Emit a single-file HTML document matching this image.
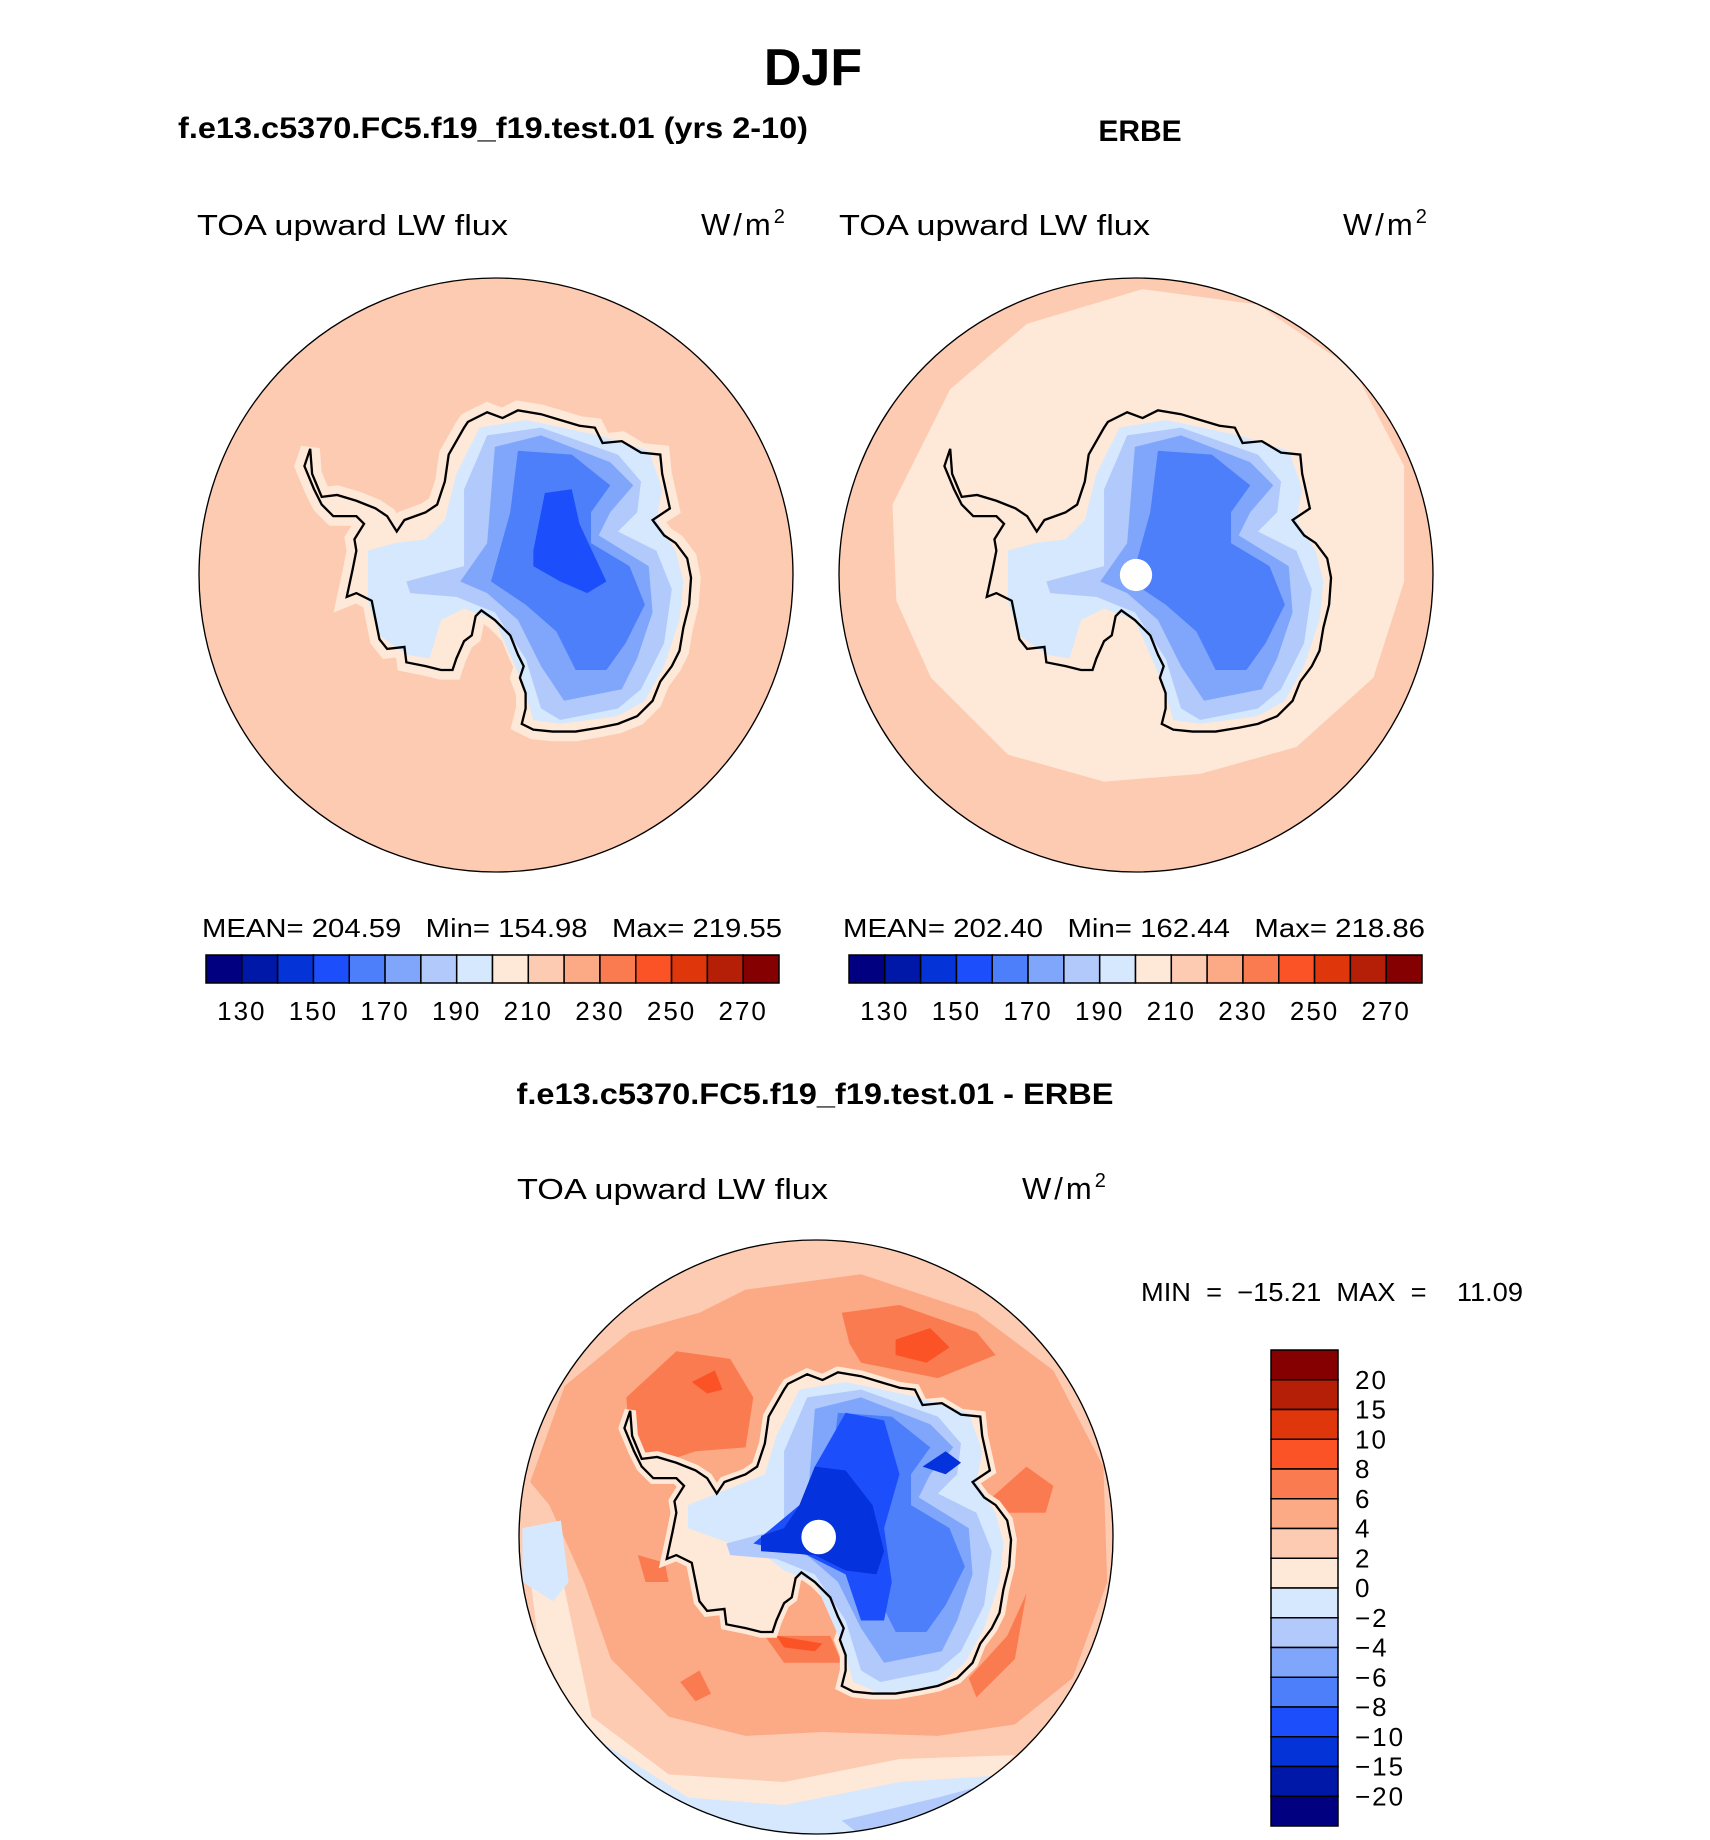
<!DOCTYPE html>
<html><head><meta charset="utf-8">
<style>
html,body{margin:0;padding:0;background:#fff;}
svg{display:block;font-family:"Liberation Sans",sans-serif;}
text{white-space:pre;}
</style></head>
<body>
<svg id="fig" width="1710" height="1840" viewBox="0 0 1710 1840" xmlns="http://www.w3.org/2000/svg">
<defs>
<path id="coast" d="M300,455 L305,520 330,580 370,575 420,590 470,610 500,630 525,670 545,640 600,620 630,600 650,540 660,470 700,400 710,385 760,360 800,375 840,355 900,365 950,380 1000,395 1040,400 1060,440 1110,435 1160,465 1210,470 1215,520 1235,610 1190,640 1220,680 1250,700 1280,740 1290,790 1285,860 1270,920 1260,980 1240,1020 1210,1060 1190,1110 1150,1150 1100,1170 1050,1180 990,1190 930,1190 880,1185 850,1170 860,1130 860,1090 845,1050 855,1020 840,990 820,940 780,900 745,875 730,890 720,940 700,955 680,1000 670,1030 640,1030 600,1020 550,1010 545,970 500,975 480,950 470,900 460,850 420,830 395,840 410,770 420,720 415,690 440,650 420,630 360,630 330,600 310,560 285,500 Z"/>
<path id="lb" d="M450,720 L520,700 600,690 650,640 680,520 740,400 860,380 1050,420 1180,460 1215,560 1200,640 1250,720 1270,800 1260,900 1220,1020 1170,1110 1100,1150 950,1170 880,1160 850,1060 780,900 700,870 640,900 610,1000 550,990 480,940 450,850Z"/>
<path id="b2" d="M550,800 L700,760 700,560 760,420 900,400 1100,470 1160,540 1150,620 1100,670 1200,720 1240,820 1220,960 1160,1080 1100,1130 950,1160 900,1130 860,1000 780,880 680,840 560,830Z"/>
<path id="b3" d="M690,800 L760,700 780,450 900,420 1080,490 1140,550 1080,620 1050,680 1180,760 1190,880 1150,1000 1110,1080 960,1110 900,1020 840,900 760,830Z"/>
<path id="b4" d="M770,800 L820,620 840,460 980,470 1080,550 1030,620 1030,700 1130,760 1170,860 1120,960 1070,1030 990,1030 940,930 860,860Z"/>
<path id="b5" d="M880,720 L910,570 980,560 1000,650 1070,800 1020,830 950,800 880,760Z"/>
<clipPath id="cc"><circle cx="783" cy="783" r="772"/></clipPath>
</defs>

<text x="813" y="85" text-anchor="middle" font-size="52" font-weight="bold">DJF</text>
<text x="178" y="138" font-size="30" font-weight="bold" textLength="630" lengthAdjust="spacingAndGlyphs">f.e13.c5370.FC5.f19_f19.test.01 (yrs 2-10)</text>
<text x="1140" y="141" text-anchor="middle" font-size="30" font-weight="bold">ERBE</text>

<text x="197" y="235" font-size="29" textLength="311" lengthAdjust="spacingAndGlyphs">TOA upward LW flux</text>
<text x="701" y="235" font-size="31" letter-spacing="3">W/m<tspan dy="-12" font-size="20">2</tspan></text>
<text x="839" y="235" font-size="29" textLength="311" lengthAdjust="spacingAndGlyphs">TOA upward LW flux</text>
<text x="1343" y="235" font-size="31" letter-spacing="3">W/m<tspan dy="-12" font-size="20">2</tspan></text>

<!-- Model map -->
<g transform="translate(496,575) scale(0.3847) translate(-783,-783)">
<g clip-path="url(#cc)">
<circle cx="783" cy="783" r="772" fill="#fdcbb2"/>
<use href="#coast" fill="#fee8d8" stroke="#fee8d8" stroke-width="50"/>
<use href="#lb" fill="#d6e8fd"/>
<use href="#b2" fill="#b2cafb"/>
<use href="#b3" fill="#80a6fb"/>
<use href="#b4" fill="#4d7ffb"/>
<use href="#b5" fill="#1c4ffb"/>
<use href="#coast" fill="none" stroke="#000" stroke-width="6"/>
</g>
<circle cx="783" cy="783" r="772" fill="none" stroke="#000" stroke-width="3.5"/>
</g>

<!-- Obs map -->
<g transform="translate(1136,575) scale(0.3847) translate(-783,-783)">
<g clip-path="url(#cc)">
<circle cx="783" cy="783" r="772" fill="#fdcbb2"/>
<path d="M150,600 L300,300 500,130 800,40 1100,80 1350,250 1480,500 1480,800 1400,1050 1200,1230 950,1300 700,1320 450,1250 250,1050 160,850Z" fill="#fee8d8"/>
<use href="#coast" fill="#fee8d8"/>
<use href="#lb" fill="#d6e8fd"/>
<use href="#b2" fill="#b2cafb"/>
<use href="#b3" fill="#80a6fb"/>
<use href="#b4" fill="#4d7ffb"/>
<circle cx="783" cy="783" r="42" fill="#fff"/>
<use href="#coast" fill="none" stroke="#000" stroke-width="6"/>
</g>
<circle cx="783" cy="783" r="772" fill="none" stroke="#000" stroke-width="3.5"/>
</g>

<text x="202" y="937" font-size="26" textLength="580" lengthAdjust="spacingAndGlyphs">MEAN= 204.59   Min= 154.98   Max= 219.55</text>
<text x="843" y="937" font-size="26" textLength="582" lengthAdjust="spacingAndGlyphs">MEAN= 202.40   Min= 162.44   Max= 218.86</text>
<g id="cb1"></g>
<g id="cb2"></g>

<text x="815" y="1104" text-anchor="middle" font-size="30" font-weight="bold" textLength="597" lengthAdjust="spacingAndGlyphs">f.e13.c5370.FC5.f19_f19.test.01 - ERBE</text>
<text x="517" y="1199" font-size="29" textLength="311" lengthAdjust="spacingAndGlyphs">TOA upward LW flux</text>
<text x="1022" y="1199" font-size="31" letter-spacing="3">W/m<tspan dy="-12" font-size="20">2</tspan></text>
<text x="1141" y="1301" font-size="26" textLength="382" lengthAdjust="spacingAndGlyphs">MIN  =  −15.21  MAX  =    11.09</text>

<!-- Diff map -->
<g transform="translate(816,1537) scale(0.3847) translate(-783,-783)">
<g clip-path="url(#cc)">
<circle cx="783" cy="783" r="772" fill="#fdcbb2"/>
<path d="M40,640 L130,390 300,250 480,200 600,140 900,100 1200,200 1400,350 1530,600 1540,900 1450,1150 1300,1270 1100,1300 800,1290 600,1300 400,1250 250,1100 180,900 90,700Z" fill="#fca985"/>
<path d="M30,800 L100,780 200,1250 400,1400 700,1420 1000,1360 1300,1350 1200,1450 900,1600 500,1560 200,1350 60,1050Z" fill="#fee8d8"/>
<path d="M200,1300 L450,1460 700,1480 1000,1420 1300,1400 1100,1560 800,1620 500,1580 250,1420Z" fill="#d6e8fd"/>
<path d="M850,1520 L1100,1460 1250,1420 1150,1520 950,1600Z" fill="#b2cafb"/>
<path d="M20,760 L120,740 140,900 100,950 20,900Z" fill="#d6e8fd"/>
<path d="M290,420 L420,300 560,320 620,420 600,550 470,560 350,600 300,550Z" fill="#fb7b50"/>
<path d="M850,200 L1000,180 1200,250 1250,310 1100,370 900,330 870,280Z" fill="#fb7b50"/>
<path d="M1240,680 L1330,600 1400,650 1380,720 1280,720Z" fill="#fb7b50"/>
<path d="M1180,1150 L1280,1040 1330,930 1300,1100 1200,1200Z" fill="#fb7b50"/>
<path d="M650,1040 L820,1040 850,1110 700,1110Z" fill="#fb7b50"/>
<path d="M430,1160 L480,1130 510,1190 470,1210Z" fill="#fb7b50"/>
<path d="M320,830 L390,850 400,900 340,900Z" fill="#fb7b50"/>
<path d="M460,380 L520,350 540,400 500,410Z" fill="#fb5226"/>
<path d="M990,270 L1080,240 1130,290 1070,330 990,310Z" fill="#fb5226"/>
<path d="M680,1040 L800,1060 780,1080 700,1070Z" fill="#fb5226"/>
<use href="#coast" fill="#fee8d8" stroke="#fee8d8" stroke-width="30"/>
<path d="M450,700 L600,640 650,620 680,520 740,400 860,380 1050,420 1180,460 1215,560 1200,640 1250,720 1270,800 1260,900 1220,1020 1170,1110 1100,1170 950,1190 880,1160 850,1060 780,900 700,870 650,830 560,800 450,760Z" fill="#d6e8fd"/>
<use href="#b2" fill="#b2cafb"/>
<use href="#b3" fill="#80a6fb"/>
<use href="#b4" fill="#4d7ffb"/>
<path d="M620,800 L740,700 780,600 860,460 960,480 1000,620 960,760 980,900 960,1000 900,1000 860,880 760,830Z" fill="#1c4ffb"/>
<path d="M740,700 L780,600 860,610 930,700 960,820 940,880 860,870 780,830 640,820 640,780 700,760Z" fill="#0432dc"/>
<path d="M1060,600 L1120,560 1160,590 1120,620Z" fill="#0432dc"/>
<circle cx="790" cy="783" r="45" fill="#fff"/>
<use href="#coast" fill="none" stroke="#000" stroke-width="6"/>
</g>
<circle cx="783" cy="783" r="772" fill="none" stroke="#000" stroke-width="3.5"/>
</g>

<g id="cb3"></g>

<script>
const fieldColors = ["#000080","#0018a8","#0433d8","#1c4ffb","#4d7ffb","#80a6fb","#b2cafb","#d6e8fd","#fee8d8","#fdcbb2","#fca985","#fb7b50","#fb5226","#e0360c","#b51f08","#850000"];
const fieldTickLabels = ["130","150","170","190","210","230","250","270"];
const diffTickLabels = ["20","15","10","8","6","4","2","0","−2","−4","−6","−8","−10","−15","−20"];
const NS = "http://www.w3.org/2000/svg";
function hbar(id, x0, y0, w, h) {
  const g = document.getElementById(id);
  const bw = w / fieldColors.length;
  fieldColors.forEach((c, i) => {
    const r = document.createElementNS(NS, "rect");
    r.setAttribute("x", x0 + i * bw); r.setAttribute("y", y0);
    r.setAttribute("width", bw); r.setAttribute("height", h);
    r.setAttribute("fill", c); r.setAttribute("stroke", "#000"); r.setAttribute("stroke-width", "1.5");
    
    
    g.appendChild(r);
  });
  fieldTickLabels.forEach((t, k) => {
    const tx = document.createElementNS(NS, "text");
    tx.setAttribute("x", x0 + (2 * k + 1) * bw); tx.setAttribute("y", y0 + h + 37);
    tx.setAttribute("text-anchor", "middle"); tx.setAttribute("font-size", "26");
    tx.setAttribute("letter-spacing", "2");
    tx.textContent = t;
    
    
    g.appendChild(tx);
  });
}
hbar("cb1", 206, 955, 573, 28);
hbar("cb2", 849, 955, 573, 28);
(function(){
  const g = document.getElementById("cb3");
  const x0 = 1271, y0 = 1350, w = 67, h = 476;
  const n = fieldColors.length, bh = h / n;
  for (let i = 0; i < n; i++) {
    const r = document.createElementNS(NS, "rect");
    r.setAttribute("x", x0); r.setAttribute("y", y0 + i * bh);
    r.setAttribute("width", w); r.setAttribute("height", bh);
    r.setAttribute("fill", fieldColors[n - 1 - i]); r.setAttribute("stroke", "#000"); r.setAttribute("stroke-width", "1.5");
    
    
    g.appendChild(r);
  }
  diffTickLabels.forEach((t, k) => {
    const tx = document.createElementNS(NS, "text");
    tx.setAttribute("x", 1355); tx.setAttribute("y", y0 + (k + 1) * bh + 9);
    tx.setAttribute("font-size", "26");
    tx.setAttribute("letter-spacing", "2");
    tx.textContent = t;
    
    
    g.appendChild(tx);
  });
})();
</script>
</svg>
</body></html>
